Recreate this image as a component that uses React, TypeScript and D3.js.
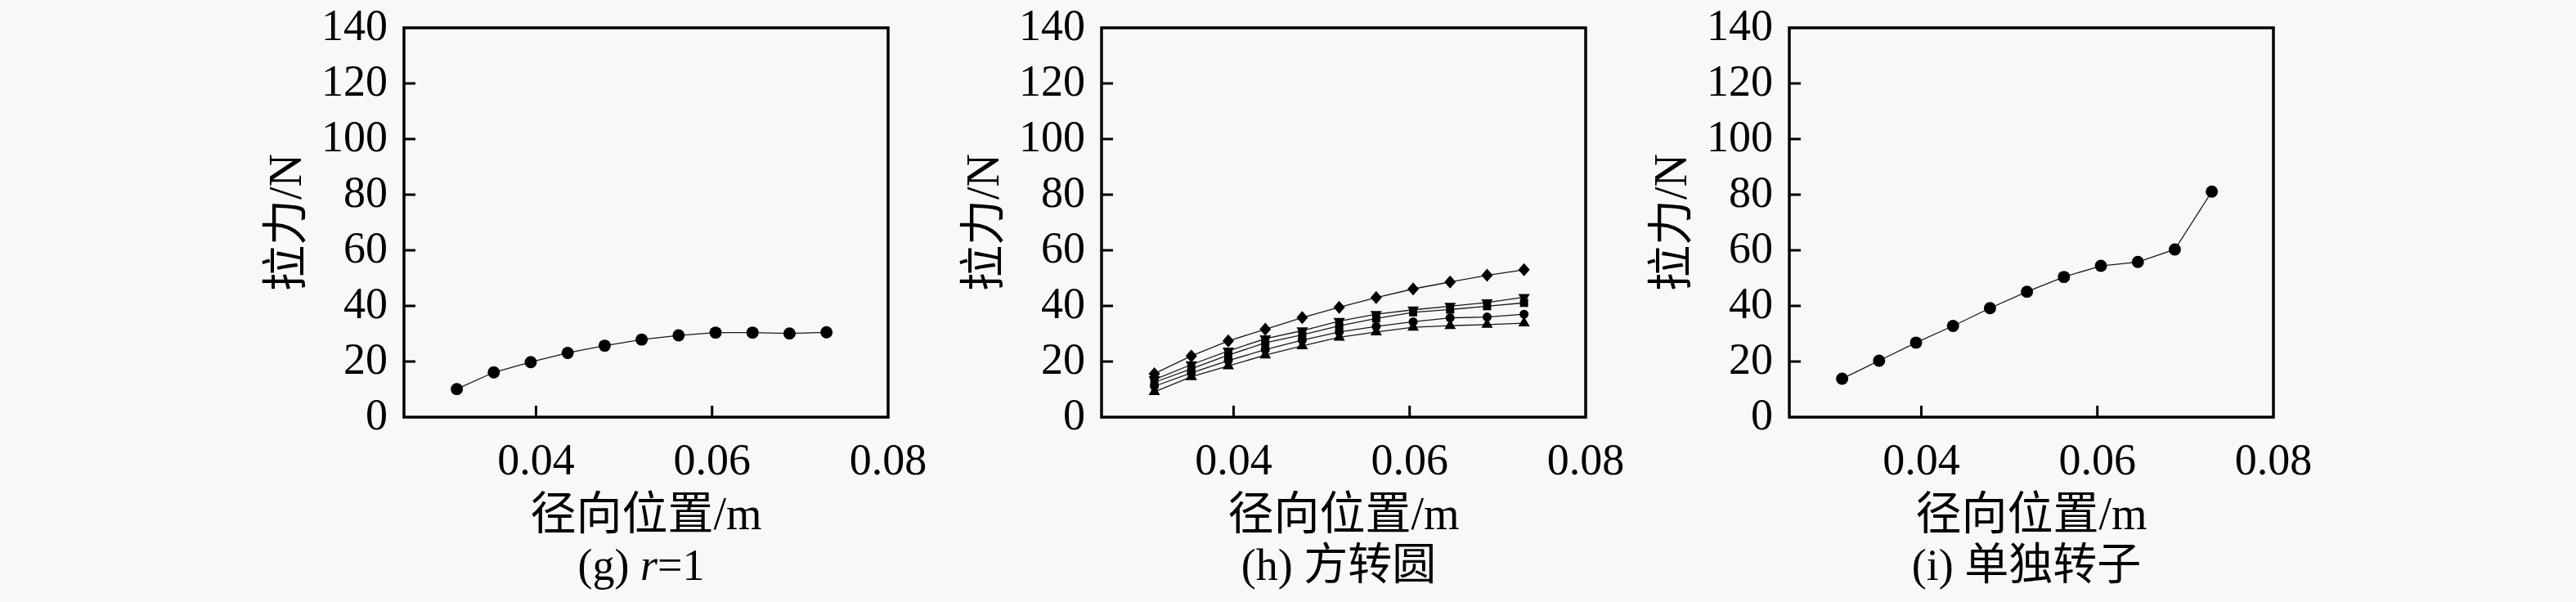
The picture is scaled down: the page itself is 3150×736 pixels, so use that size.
import React from "react";
import * as d3 from "d3";

// radial positions (m), shared by all panels
const xValues = [0.031, 0.0352, 0.0394, 0.0436, 0.0478, 0.052, 0.0562, 0.0604, 0.0646, 0.0688, 0.073];

// (g) r=1
const gValues = [10.1, 16.1, 19.8, 23.1, 25.7, 27.9, 29.4, 30.4, 30.4, 30.1, 30.5];

// (h) square-to-round, five curves
const hDiamond = [15.6, 22.0, 27.4, 31.6, 35.8, 39.5, 43.0, 46.1, 48.6, 51.0, 53.0];
const hTriDown = [13.5, 18.9, 23.8, 28.2, 31.1, 34.5, 37.0, 38.6, 39.9, 41.2, 43.1];
const hSquare = [12.5, 17.4, 22.3, 26.7, 29.6, 32.8, 35.5, 37.7, 38.7, 39.9, 41.1];
const hCircle = [11.1, 15.9, 20.3, 24.3, 27.7, 30.6, 32.6, 34.3, 35.7, 36.0, 37.0];
const hTriUp = [9.1, 14.5, 18.4, 22.3, 25.6, 28.7, 30.6, 32.3, 32.9, 33.3, 33.8];

// (i) rotor alone
const iValues = [13.8, 20.3, 26.8, 32.8, 39.2, 45.1, 50.4, 54.4, 55.8, 60.3, 81.1];

const yTicks = [0, 20, 40, 60, 80, 100, 120, 140];
const xTicks = [0.04, 0.06, 0.08];

const W = 3150;
const H = 736;
const top = 34;
const bottom = 510;
const plotW = 592;
const serif = "'Liberation Serif', 'Times New Roman', 'Noto Sans CJK SC', serif";

const diamondPath = "M0,-8L7,0L0,8L-7,0Z";

function marker(kind: string) {
  if (kind === "diamond") return diamondPath;
  if (kind === "square") return d3.symbol().type(d3.symbolSquare).size(100)()!;
  if (kind === "triUp") return d3.symbol().type(d3.symbolTriangle).size(85)()!;
  if (kind === "triDown") return d3.symbol().type(d3.symbolTriangle).size(85)()!;
  if (kind === "dot") return d3.symbol().type(d3.symbolCircle).size(175)()!;
  return d3.symbol().type(d3.symbolCircle).size(95)()!;
}

function Panel(props: any) {
  const { left, series, caption } = props;
  const x = d3.scaleLinear().domain([0.025, 0.08]).range([left, left + plotW]);
  const y = d3.scaleLinear().domain([0, 140]).range([bottom, top]);
  const line = d3
    .line<number>()
    .x((d, i) => x(xValues[i]))
    .y((d) => y(d));
  const cx = left + plotW / 2;

  return (
    <g>
      {series.map((s: any, k: number) => (
        <g key={k}>
          <path d={line(s.values) || ""} fill="none" stroke="#1a1a1a" strokeWidth={1.3} />
          {s.values.map((v: number, i: number) => (
            <path
              key={i}
              d={marker(s.kind)}
              transform={
                "translate(" + x(xValues[i]) + "," + y(v) + ")" + (s.kind === "triDown" ? " rotate(180)" : "")
              }
              fill="#000"
            />
          ))}
        </g>
      ))}

      {/* frame */}
      <rect x={left} y={top} width={plotW} height={bottom - top} fill="none" stroke="#000" strokeWidth={3.5} />

      {/* y ticks */}
      {yTicks.map((t) => (
        <g key={t}>
          {t > 0 && t < 140 && (
            <line x1={left} x2={left + 14} y1={y(t)} y2={y(t)} stroke="#000" strokeWidth={3} />
          )}
          <text x={left - 20} y={y(t) + 15} textAnchor="end" fontFamily={serif} fontSize={54}>
            {t}
          </text>
        </g>
      ))}

      {/* x ticks */}
      {xTicks.map((t) => (
        <g key={t}>
          {t < 0.08 && <line x1={x(t)} x2={x(t)} y1={bottom} y2={bottom - 14} stroke="#000" strokeWidth={3} />}
          <text x={x(t)} y={580} textAnchor="middle" fontFamily={serif} fontSize={54}>
            {t.toFixed(2)}
          </text>
        </g>
      ))}

      <text x={cx} y={647} textAnchor="middle" fontFamily={serif} fontSize={56}>
        径向位置/m
      </text>
      <text
        transform={"translate(" + (left - 126) + "," + (top + bottom) / 2 + ") rotate(-90)"}
        textAnchor="middle"
        fontFamily={serif}
        fontSize={56}
      >
        拉力/N
      </text>
      <text x={cx - 6} y={709} textAnchor="middle" fontFamily={serif} fontSize={54}>
        {caption}
      </text>
    </g>
  );
}

export default function App() {
  return (
    <svg
      width={W}
      height={H}
      viewBox={"0 0 " + W + " " + H}
      style={{ position: "absolute", left: 0, top: 0, display: "block" }}
    >
      <rect width={W} height={H} fill="#f8f8f8" />
      <Panel
        left={494}
        series={[{ kind: "dot", values: gValues }]}
        caption={
          <>
            (g) <tspan fontStyle="italic">r</tspan>=1
          </>
        }
      />
      <Panel
        left={1347}
        series={[
          { kind: "diamond", values: hDiamond },
          { kind: "triDown", values: hTriDown },
          { kind: "square", values: hSquare },
          { kind: "circle", values: hCircle },
          { kind: "triUp", values: hTriUp },
        ]}
        caption="(h) 方转圆"
      />
      <Panel left={2188} series={[{ kind: "dot", values: iValues }]} caption="(i) 单独转子" />
    </svg>
  );
}
